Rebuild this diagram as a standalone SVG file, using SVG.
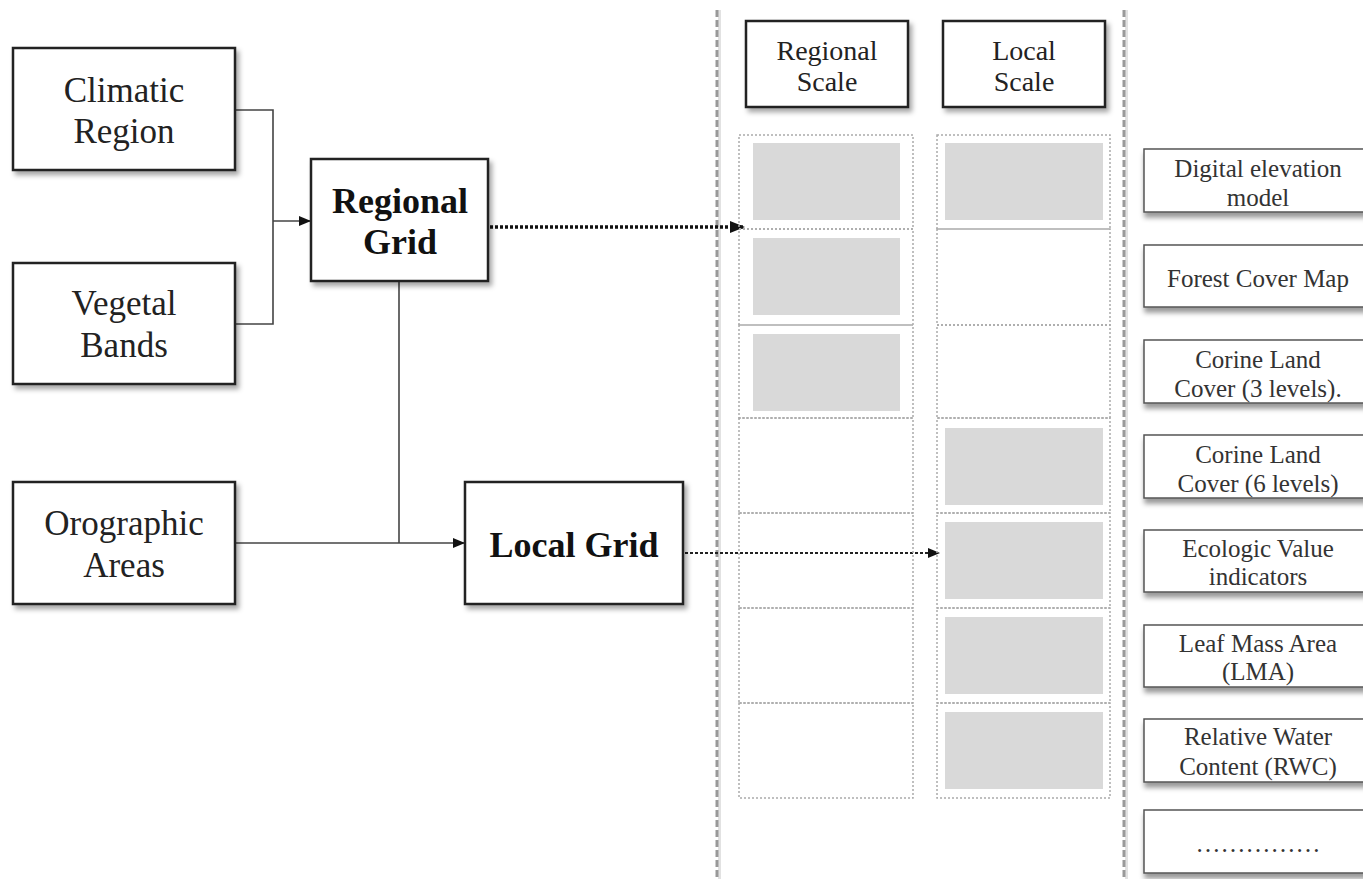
<svg xmlns="http://www.w3.org/2000/svg" width="1363" height="879" viewBox="0 0 1363 879">
<defs>
<filter id="sh" x="-10%" y="-10%" width="130%" height="140%">
<feDropShadow dx="3" dy="4" stdDeviation="2.5" flood-color="#000" flood-opacity="0.35"/>
</filter>
<filter id="sh2" x="-10%" y="-10%" width="130%" height="160%">
<feDropShadow dx="1" dy="5" stdDeviation="2.5" flood-color="#000" flood-opacity="0.4"/>
</filter>
<marker id="ah" markerWidth="12" markerHeight="10" refX="12" refY="5" orient="auto" markerUnits="userSpaceOnUse">
<path d="M0,0 L12,5 L0,10 Z" fill="#111"/>
</marker>
<marker id="ah2" markerWidth="15" markerHeight="12" refX="15" refY="6" orient="auto" markerUnits="userSpaceOnUse">
<path d="M0,0 L15,6 L0,12 Z" fill="#111"/>
</marker>
</defs>
<style>
.box{fill:#fff;stroke:#222;stroke-width:2.5;filter:url(#sh)}
.rbox{fill:#fff;stroke:#555;stroke-width:1.5;filter:url(#sh2)}
.t{font-family:"Liberation Serif",serif;font-size:35px;fill:#222;text-anchor:middle}
.tb{font-family:"Liberation Serif",serif;font-size:36px;font-weight:bold;fill:#111;text-anchor:middle}
.ts{font-family:"Liberation Serif",serif;font-size:28px;fill:#222;text-anchor:middle}
.tr{font-family:"Liberation Serif",serif;font-size:25px;fill:#333;text-anchor:middle}
.conn{fill:none;stroke:#444;stroke-width:1.6}
.sep{stroke:#999;stroke-width:3;stroke-dasharray:7 3}
.sepsh{stroke:#e2e2e2;stroke-width:3}
.cell{fill:none;stroke:#aaa;stroke-width:1.5;stroke-dasharray:2 2}
.fill{fill:#d9d9d9}
</style>
<rect width="1363" height="879" fill="#fff"/>

<g id="separators">
<line class="sepsh" x1="719.5" y1="10" x2="719.5" y2="879"/>
<line class="sep" x1="717" y1="10" x2="717" y2="879"/>
<line class="sepsh" x1="1126.5" y1="10" x2="1126.5" y2="879"/>
<line class="sep" x1="1124" y1="10" x2="1124" y2="879"/>
</g>

<g id="connectors">
<path class="conn" d="M235,110 H273 V324 H235"/>
<path class="conn" d="M273,221 H311" marker-end="url(#ah)"/>
<path class="conn" d="M399,281 V543"/>
<path class="conn" d="M235,543 H465" marker-end="url(#ah)"/>
<path d="M490,227 H745" fill="none" stroke="#111" stroke-width="3.5" stroke-dasharray="3 2" marker-end="url(#ah2)"/>
<path d="M685,553 H940" fill="none" stroke="#222" stroke-width="2" stroke-dasharray="3 2" marker-end="url(#ah)"/>
</g>

<g id="climatic-region">
<rect class="box" x="13" y="48" width="222" height="122"/>
<text class="t" x="124" y="102">Climatic</text>
<text class="t" x="124" y="143">Region</text>
</g>
<g id="vegetal-bands">
<rect class="box" x="13" y="263" width="222" height="121"/>
<text class="t" x="124" y="315">Vegetal</text>
<text class="t" x="124" y="357">Bands</text>
</g>
<g id="orographic-areas">
<rect class="box" x="13" y="482" width="222" height="122"/>
<text class="t" x="124" y="535">Orographic</text>
<text class="t" x="124" y="577">Areas</text>
</g>
<g id="regional-grid">
<rect class="box" x="311" y="159" width="177" height="122"/>
<text class="tb" x="400" y="213">Regional</text>
<text class="tb" x="400" y="254">Grid</text>
</g>
<g id="local-grid">
<rect class="box" x="465" y="482" width="218" height="122"/>
<text class="tb" x="574" y="557">Local Grid</text>
</g>

<g id="regional-scale">
<rect class="box" x="746" y="21" width="162" height="86"/>
<text class="ts" x="827" y="60">Regional</text>
<text class="ts" x="827" y="91">Scale</text>
</g>
<g id="local-scale">
<rect class="box" x="943" y="21" width="162" height="86"/>
<text class="ts" x="1024" y="60">Local</text>
<text class="ts" x="1024" y="91">Scale</text>
</g>

<g id="regional-column">
<rect class="cell" x="739" y="135" width="174" height="94"/>
<rect class="cell" x="739" y="229" width="174" height="96"/>
<rect class="cell" x="739" y="325" width="174" height="93"/>
<rect class="cell" x="739" y="418" width="174" height="95"/>
<rect class="cell" x="739" y="513" width="174" height="95"/>
<rect class="cell" x="739" y="608" width="174" height="95"/>
<rect class="cell" x="739" y="703" width="174" height="95"/>
<rect class="fill" x="753" y="143" width="147" height="77"/>
<rect class="fill" x="753" y="238" width="147" height="77"/>
<rect class="fill" x="753" y="334" width="147" height="77"/>
</g>
<g id="local-column">
<rect class="cell" x="937" y="135" width="173" height="94"/>
<rect class="cell" x="937" y="229" width="173" height="96"/>
<rect class="cell" x="937" y="325" width="173" height="93"/>
<rect class="cell" x="937" y="418" width="173" height="95"/>
<rect class="cell" x="937" y="513" width="173" height="95"/>
<rect class="cell" x="937" y="608" width="173" height="95"/>
<rect class="cell" x="937" y="703" width="173" height="95"/>
<rect class="fill" x="945" y="143" width="158" height="77"/>
<rect class="fill" x="945" y="428" width="158" height="77"/>
<rect class="fill" x="945" y="522" width="158" height="77"/>
<rect class="fill" x="945" y="617" width="158" height="77"/>
<rect class="fill" x="945" y="712" width="158" height="77"/>
</g>

<g id="dem">
<rect class="rbox" x="1144" y="149" width="232" height="63"/>
<text class="tr" x="1258" y="177">Digital elevation</text>
<text class="tr" x="1258" y="206">model</text>
</g>
<g id="forest-cover">
<rect class="rbox" x="1144" y="245" width="232" height="62"/>
<text class="tr" x="1258" y="287">Forest Cover Map</text>
</g>
<g id="corine-3">
<rect class="rbox" x="1144" y="340" width="232" height="63"/>
<text class="tr" x="1258" y="368">Corine Land</text>
<text class="tr" x="1258" y="397">Cover (3 levels).</text>
</g>
<g id="corine-6">
<rect class="rbox" x="1144" y="435" width="232" height="63"/>
<text class="tr" x="1258" y="463">Corine Land</text>
<text class="tr" x="1258" y="492">Cover (6 levels)</text>
</g>
<g id="ecologic">
<rect class="rbox" x="1144" y="530" width="232" height="62"/>
<text class="tr" x="1258" y="557">Ecologic Value</text>
<text class="tr" x="1258" y="585">indicators</text>
</g>
<g id="lma">
<rect class="rbox" x="1144" y="625" width="232" height="62"/>
<text class="tr" x="1258" y="652">Leaf Mass Area</text>
<text class="tr" x="1258" y="680">(LMA)</text>
</g>
<g id="rwc">
<rect class="rbox" x="1144" y="719" width="232" height="63"/>
<text class="tr" x="1258" y="745">Relative Water</text>
<text class="tr" x="1258" y="775">Content (RWC)</text>
</g>
<g id="more">
<rect class="rbox" x="1144" y="810" width="232" height="63"/>
<text class="tr" x="1258" y="852">……………</text>
</g>
</svg>
